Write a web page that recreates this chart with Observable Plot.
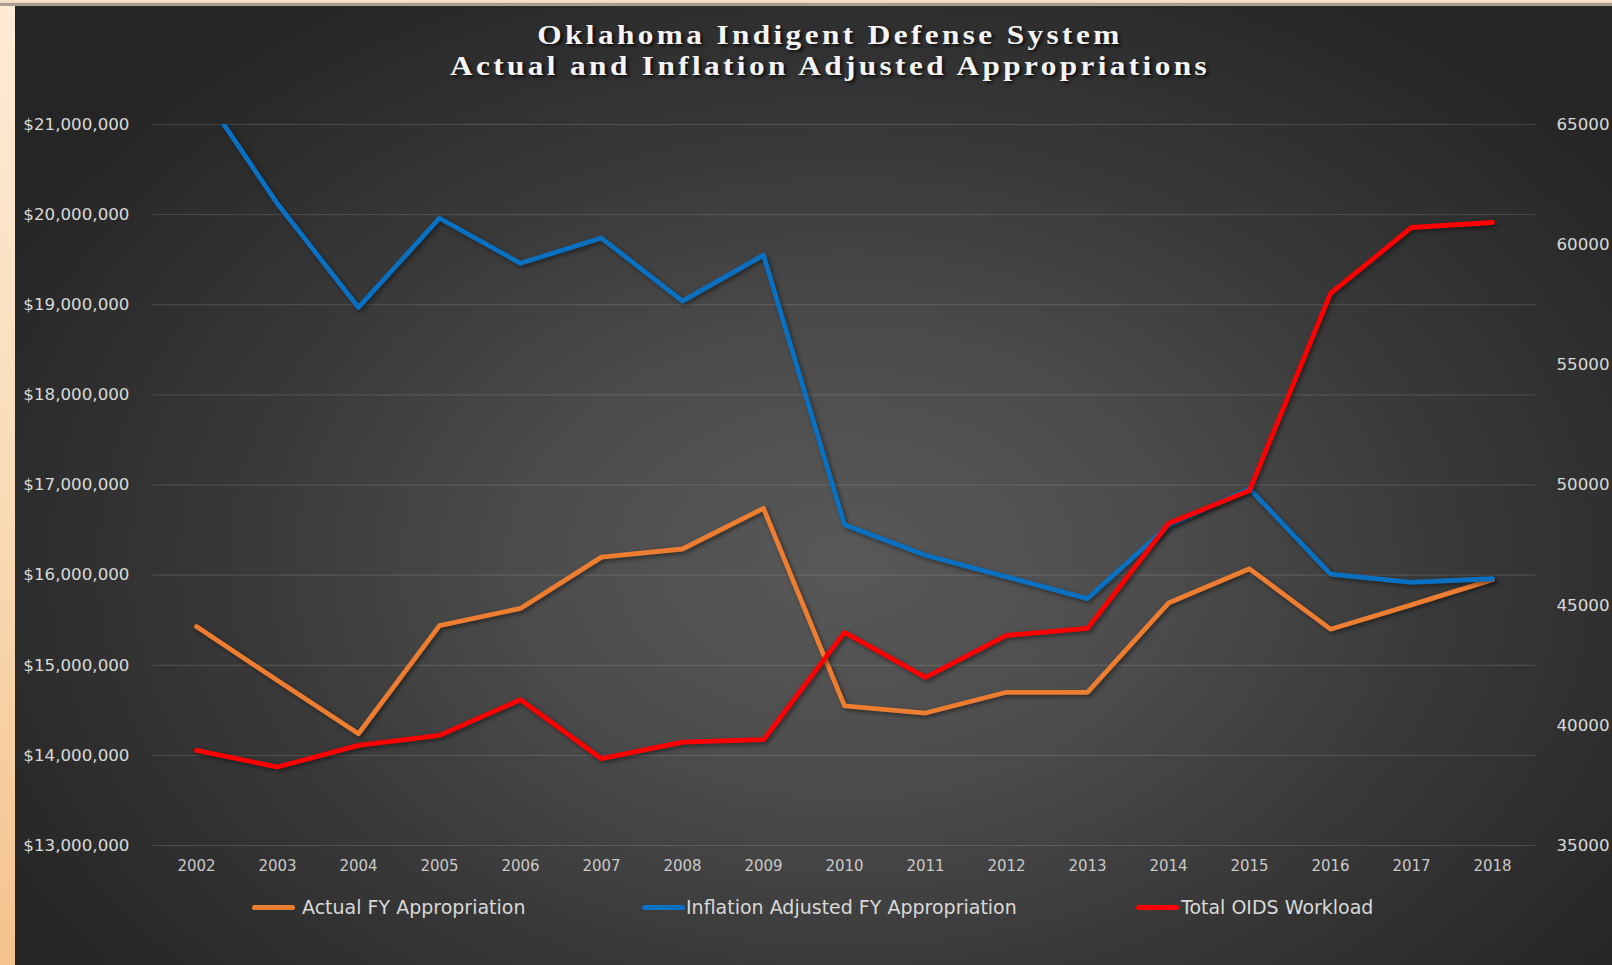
<!DOCTYPE html>
<html>
<head>
<meta charset="utf-8">
<script src="https://cdn.jsdelivr.net/npm/d3@7"></script>
<script src="https://cdn.jsdelivr.net/npm/@observablehq/plot@0.6"></script>
<style>
  html, body { margin: 0; padding: 0; overflow: hidden; background: #262626; }
  #page { position: relative; width: 1612px; height: 965px; overflow: hidden; }
  #leftstrip { position: absolute; left: 0; top: 0; width: 15px; height: 965px;
    background: linear-gradient(to bottom, #fdebd6 0%, #f9dcb8 50%, #f4c38d 100%); }
  #topstrip { position: absolute; left: 0; top: 0; width: 1612px; height: 6px;
    background: linear-gradient(to bottom, #f7e3cc 0%, #f2d9bd 45%, #9a8f85 60%, #b9aa9a 100%); }
  #panel { position: absolute; left: 15px; top: 6px; width: 1597px; height: 959px;
    background: radial-gradient(ellipse 62% 72% at 52% 58%, #585858 0%, #4d4d4d 30%, #383838 62%, #282828 92%, #252525 100%); }
  #title { position: absolute; top: 19.8px; left: 830px; transform: translateX(-50%) scaleX(1.16);
    font-family: "Liberation Serif", "Times New Roman", serif; font-weight: bold; font-size: 27px;
    letter-spacing: 2.9px; line-height: 31px; color: #f4f4f4; text-align: center; white-space: nowrap;
    text-shadow: 2px 2px 3px rgba(0,0,0,0.75); }
  #chart { position: absolute; left: 0; top: 90px; }
  #chart svg { overflow: visible; }
  #chart g[aria-label="line"] path { filter: drop-shadow(2px 2px 2px rgba(0,0,0,0.45)); }
  .legtext { position: absolute; font-family: "DejaVu Sans", sans-serif; font-size: 19px; line-height: 20px;
    color: #d9d9d9; white-space: nowrap; }
  .legsw { position: absolute; height: 5px; border-radius: 3px; }
</style>
</head>
<body>
<div id="page">
  <div id="panel"></div>
  <div id="leftstrip"></div>
  <div id="topstrip"></div>
  <div id="title">Oklahoma Indigent Defense System<br>Actual and Inflation Adjusted Appropriations</div>
  <div id="chart"></div>
  <div id="legend"></div>
</div>
<script>
// ---- Data ----
const years = ["2002","2003","2004","2005","2006","2007","2008","2009","2010","2011","2012","2013","2014","2015","2016","2017","2018"];
const actualFY = [15430000, 14830000, 14240000, 15440000, 15630000, 16200000, 16290000, 16740000, 14550000, 14470000, 14700000, 14700000, 15690000, 16070000, 15400000, 15670000, 15950000];
const inflationFY = [21450000, 20120000, 18970000, 19960000, 19460000, 19740000, 19040000, 19550000, 16560000, 16220000, 15980000, 15740000, 16550000, 16960000, 16010000, 15920000, 15960000];
const workload = [38958, 38265, 39166, 39582, 41066, 38612, 39305, 39402, 43867, 41995, 43742, 44034, 48400, 49774, 57970, 60715, 60923];
const leftTicks = [13000000, 14000000, 15000000, 16000000, 17000000, 18000000, 19000000, 20000000, 21000000];
const rightTicks = [35000, 40000, 45000, 50000, 55000, 60000, 65000];
const seriesNames = ["Actual FY Appropriation", "Inflation Adjusted FY Appropriation", "Total OIDS Workload"];
const seriesColors = ["#ED7D31", "#0A71C2", "#FF0000"];

// secondary axis mapping onto primary scale domain
const leftDom = [leftTicks[0], leftTicks[leftTicks.length - 1]];
const rightDom = [rightTicks[0], rightTicks[rightTicks.length - 1]];
const toLeft = w => leftDom[0] + (w - rightDom[0]) * (leftDom[1] - leftDom[0]) / (rightDom[1] - rightDom[0]);
const fromLeft = v => rightDom[0] + (v - leftDom[0]) * (rightDom[1] - rightDom[0]) / (leftDom[1] - leftDom[0]);

const rows = years.map((y, i) => ({year: y, actual: actualFY[i], inflation: inflationFY[i], workload: workload[i]}));

const lineOpts = {strokeWidth: 4.8, strokeLinejoin: "round", strokeLinecap: "round"};

const chart = Plot.plot({
  width: 1612,
  height: 795,
  marginTop: 34,
  marginBottom: 40,
  marginLeft: 153,
  marginRight: 77,
  style: {background: "transparent", color: "#d9d9d9", fontFamily: "DejaVu Sans, sans-serif", fontSize: "16.5px", overflow: "visible"},
  x: {type: "point", domain: years, padding: 0.5, label: null},
  y: {domain: leftDom, label: null},
  marks: [
    Plot.gridY(leftTicks, {stroke: "#ffffff", strokeOpacity: 0.15, strokeWidth: 1}),
    Plot.axisX({tickSize: 0, tickPadding: 14.5, label: null, fontSize: 15, fill: "#c9c9c9"}),
    Plot.axisY(leftTicks, {anchor: "left", tickSize: 0, tickPadding: 24, label: null, fontSize: 16.7, fill: "#d9d9d9",
      tickFormat: d => "$" + d3.format(",")(d)}),
    Plot.axisY(rightTicks.map(toLeft), {anchor: "right", tickSize: 0, tickPadding: 21, label: null, fontSize: 16.7, fill: "#d9d9d9",
      tickFormat: d => String(Math.round(fromLeft(d)))}),
    Plot.line(rows, {x: "year", y: "actual", stroke: seriesColors[0], ...lineOpts}),
    Plot.line(rows, {x: "year", y: "inflation", stroke: seriesColors[1], clip: true, ...lineOpts}),
    Plot.line(rows, {x: "year", y: d => toLeft(d.workload), stroke: seriesColors[2], ...lineOpts})
  ]
});
document.getElementById("chart").appendChild(chart);

// ---- Legend (HTML, below the SVG) ----
const legendSwatchX = [252, 642, 1136];
const legendTextX = [302, 686, 1181];
const legend = document.getElementById("legend");
seriesNames.forEach((name, i) => {
  const sw = document.createElement("div");
  sw.className = "legsw";
  sw.style.left = legendSwatchX[i] + "px";
  sw.style.width = "43px";
  sw.style.top = "904.5px";
  sw.style.background = seriesColors[i];
  legend.appendChild(sw);
  const t = document.createElement("div");
  t.className = "legtext";
  t.style.left = legendTextX[i] + "px";
  t.style.top = "896.8px";
  t.textContent = name;
  legend.appendChild(t);
});
</script>
</body>
</html>
